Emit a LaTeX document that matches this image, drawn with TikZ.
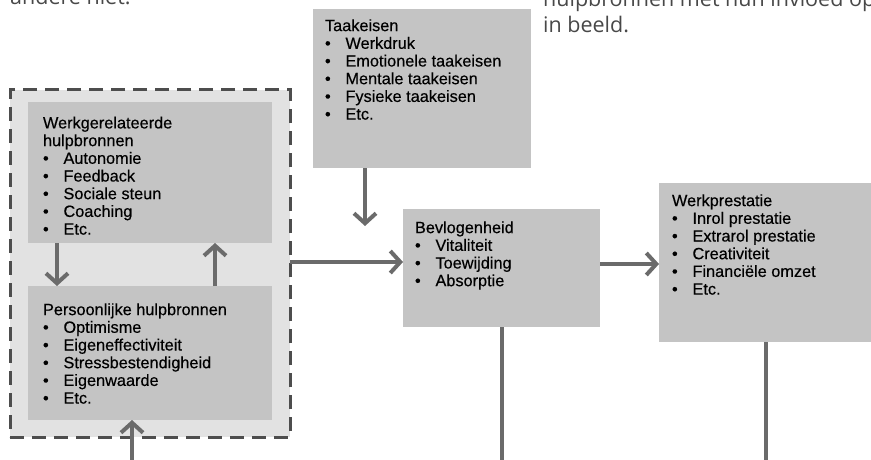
\documentclass[tikz,border=0pt]{standalone}
\usepackage{fontspec}
\setmainfont{Liberation Sans}
\newfontfamily\boxfont{Liberation Sans}[FakeBold=0.35]
\newfontfamily\topfont{Open Sans}
\usetikzlibrary{arrows.meta}
\definecolor{boxgray}{HTML}{C4C4C4}
\definecolor{outergray}{HTML}{E2E2E2}
\definecolor{linegray}{HTML}{6B6B6B}
\definecolor{dashgray}{HTML}{4D4D4D}
\definecolor{topgray}{HTML}{484848}
\newcommand\itm[1]{\makebox[20.5pt][l]{\textbullet}#1}
\begin{document}
\begin{tikzpicture}[x=1pt,y=-1pt,
  box/.style={draw=none, fill=boxgray, inner sep=0pt, outer sep=0pt, anchor=north west},
  txt/.style={anchor=base west, inner sep=0pt, outer sep=0pt, text=black,
    font=\boxfont\fontsize{16.3}{17.7}\selectfont},
  conn/.style={draw=linegray, line width=4pt,
    -{Straight Barb[length=10pt,width=22pt,line width=4pt]}},
  plain/.style={draw=linegray, line width=4pt},
  toptxt/.style={anchor=base west, inner sep=0pt, text=topgray,
    font=\topfont\fontsize{21.5}{26}\selectfont},
]
\useasboundingbox (0,0) rectangle (871,460);
\begin{scope}
\clip (0,0) rectangle (871,460);
\node[toptxt] (t1) at (10,5) {andere niet.};
\node[toptxt] (t2) at (543,7) {hulpbronnen met hun invloed op};
\node[toptxt] (t3) at (543,33) {in beeld.};
\end{scope}

% outer dashed group
\node[draw=dashgray, fill=outergray, line width=3pt, dash pattern=on 14pt off 8pt,
  inner sep=0pt, outer sep=0pt, anchor=north west,
  minimum width=280pt, minimum height=347pt] (outer) at (10,90) {};

% boxes
\node[box, minimum width=244pt, minimum height=141pt] (wg) at (28,102) {};
\node[box, minimum width=244pt, minimum height=134pt] (pb) at (28,286) {};
\node[box, minimum width=218pt, minimum height=159pt] (tk) at (313,9) {};
\node[box, minimum width=197pt, minimum height=118pt] (bv) at (403,209) {};
\node[box, minimum width=212pt, minimum height=159pt] (wp) at (659,183) {};

% texts
\node[txt] (wgt) at (43,128.4) {\begin{tabular}[t]{@{}l@{}}Werkgerelateerde\\hulpbronnen\\
  \itm{Autonomie}\\\itm{Feedback}\\\itm{Sociale steun}\\\itm{Coaching}\\\itm{Etc.}\end{tabular}};
\node[txt] (pbt) at (43,315.1) {\begin{tabular}[t]{@{}l@{}}Persoonlijke hulpbronnen\\
  \itm{Optimisme}\\\itm{Eigeneffectiviteit}\\\itm{Stressbestendigheid}\\\itm{Eigenwaarde}\\\itm{Etc.}\end{tabular}};
\node[txt] (tkt) at (325,31.1) {\begin{tabular}[t]{@{}l@{}}Taakeisen\\
  \itm{Werkdruk}\\\itm{Emotionele taakeisen}\\\itm{Mentale taakeisen}\\\itm{Fysieke taakeisen}\\\itm{Etc.}\end{tabular}};
\node[txt] (bvt) at (415,233.1) {\begin{tabular}[t]{@{}l@{}}Bevlogenheid\\
  \itm{Vitaliteit}\\\itm{Toewijding}\\\itm{Absorptie}\end{tabular}};
\node[txt] (wpt) at (672,206.1) {\begin{tabular}[t]{@{}l@{}}Werkprestatie\\
  \itm{Inrol prestatie}\\\itm{Extrarol prestatie}\\\itm{Creativiteit}\\\itm{Financiële omzet}\\\itm{Etc.}\end{tabular}};

% connectors
\coordinate (dn) at (57,0);
\coordinate (up) at (215,0);
\coordinate (bot) at (132,470);
\coordinate (tkend) at (365,226);
\coordinate (bvend) at (502,470);
\coordinate (wpend) at (766,470);
\draw[conn] (wg.south -| dn) -- (pb.north -| dn);
\draw[conn] (pb.north -| up) -- (wg.south -| up);
\draw[conn] (bot) -- (pb.south -| bot);
\draw[conn] ([yshift=1.5pt]outer.east) -- ([yshift=1.5pt]outer.east -| bv.west);
\draw[conn] (tk.south -| tkend) -- (tkend);
\draw[conn] ([yshift=4pt]bv.east) -- ([yshift=4pt]bv.east -| wp.west);
\draw[plain] (bv.south -| bvend) -- (bvend);
\draw[plain] (wp.south -| wpend) -- (wpend);
\end{tikzpicture}
\end{document}
